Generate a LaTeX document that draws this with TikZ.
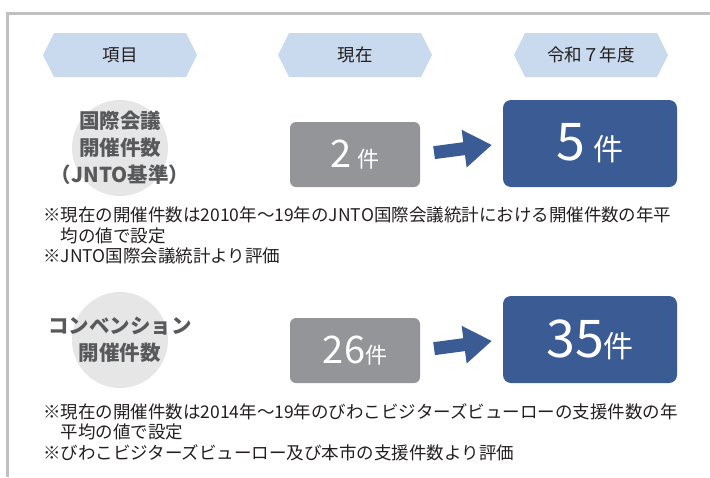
\documentclass[tikz,border=0pt]{standalone}
\usepackage{fontspec}
\setmainfont{Noto Sans CJK JP}
\newfontfamily\numfont{Liberation Sans}
\usetikzlibrary{arrows.meta,calc}
\definecolor{framegray}{HTML}{C0C1C3}
\definecolor{hexblue}{HTML}{C9D9EE}
\definecolor{circgray}{HTML}{E6E6E7}
\definecolor{boxgray}{HTML}{939598}
\definecolor{boxblue}{HTML}{3A5B93}
\definecolor{txtgray}{HTML}{58595B}
\definecolor{txtdark}{HTML}{231F20}
\tikzset{
  hexhdr/.pic={\fill[hexblue] (-77,0) -- (-66,-22) -- (66,-22) -- (77,0) -- (66,22) -- (-66,22) -- cycle;},
  hdrtext/.style={text=txtdark, font=\fontsize{17.5}{20}\selectfont, inner sep=0},
  circbg/.style={circle, fill=circgray, minimum size=96, inner sep=0},
  circtext/.style={text=txtgray, font=\fontsize{20.5}{27}\selectfont\bfseries, align=center, inner sep=0},
  nowbox/.style={rounded corners=6, fill=boxgray, minimum width=130, minimum height=65, text=white, inner sep=0},
  goalbox/.style={rounded corners=8, fill=boxblue, minimum width=174, minimum height=87, text=white, inner sep=0},
  blockarrow/.style={boxblue, line width=13, -{Triangle[length=28,width=36]}, shorten <=14, shorten >=11},
  note/.style={anchor=north west, text=txtdark, font=\fontsize{17.5}{20.5}\selectfont, align=left, inner sep=0},
}
\begin{document}
\begin{tikzpicture}[x=1pt, y=-1pt]
\useasboundingbox (0,0) rectangle (710,477);
\draw[framegray, line width=3] (7,477) -- (7,13) -- (710,13);

% headers
\pic at (120,55) {hexhdr};
\pic at (355,55) {hexhdr};
\pic at (591,55) {hexhdr};
\node[hdrtext] (h1) at (120,55) {項目};
\node[hdrtext] (h2) at (355,55) {現在};
\node[hdrtext] (h3) at (591,55) {令和７年度};

% row 1
\node[circbg] (c1) at (120,148) {};
\node[circtext] (t1) at (c1) {国際会議\\開催件数\\（JNTO基準）};
\node[nowbox] (g1) at (355,154.5) {\fontsize{38}{38}\selectfont 2\,\fontsize{22}{22}\selectfont 件};
\node[goalbox] (b1) at (590,143.5) {\fontsize{52}{52}\selectfont 5\,\fontsize{30}{30}\selectfont 件};
\draw[blockarrow] (g1.east) -- (b1.west);
\node[note] (n1) at (43,207) {※現在の開催件数は2010年～19年のJNTO国際会議統計における開催件数の年平\\\hspace*{1em}均の値で設定\\※JNTO国際会議統計より評価};

% row 2
\node[circbg] (c2) at (120,340) {};
\node[circtext] (t2) at (c2) {コンベンション\\開催件数};
\node[nowbox] (g2) at (355,350.5) {\fontsize{38}{38}\selectfont 26\fontsize{22}{22}\selectfont 件};
\node[goalbox] (b2) at (590,339.5) {\fontsize{52}{52}\selectfont 35\fontsize{30}{30}\selectfont 件};
\draw[blockarrow] (g2.east) -- (b2.west);
\node[note] (n2) at (43,403) {※現在の開催件数は2014年～19年のびわこビジターズビューローの支援件数の年\\\hspace*{1em}平均の値で設定\\※びわこビジターズビューロー及び本市の支援件数より評価};
\end{tikzpicture}
\end{document}
